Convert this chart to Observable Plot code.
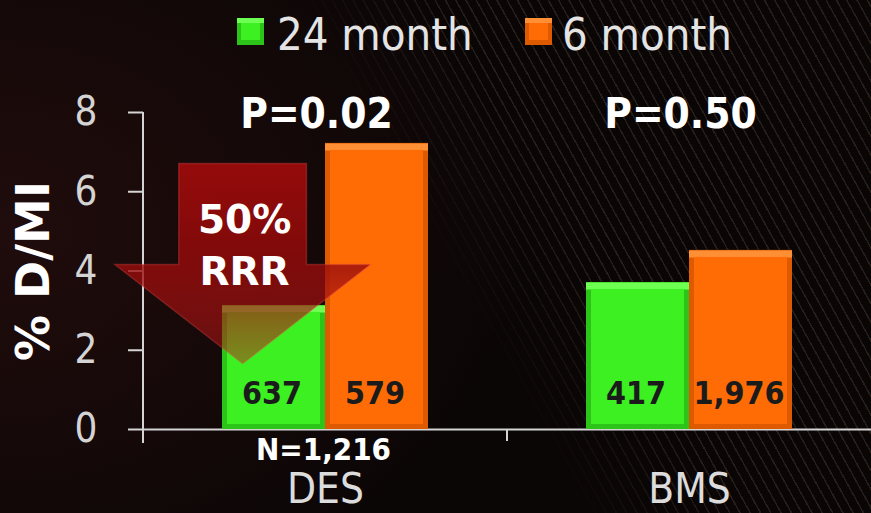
<!DOCTYPE html>
<html>
<head>
<meta charset="utf-8">
<script src="https://cdn.jsdelivr.net/npm/d3@7"></script>
<script src="https://cdn.jsdelivr.net/npm/@observablehq/plot@0.6"></script>
<style>
  html, body { margin: 0; padding: 0; background: #0b0606; }
  #wrap {
    position: relative; width: 871px; height: 513px; overflow: hidden;
    background: radial-gradient(ellipse 70% 90% at 0% 45%, #200c0c 0%, #160909 45%, #0b0606 85%);
  }
  #stripes {
    position: absolute; left: 0; top: 0; width: 871px; height: 513px;
    background: repeating-linear-gradient(61deg, rgba(0,0,0,0) 0px, rgba(0,0,0,0) 7.5px, rgba(125,108,90,0.24) 7.5px, rgba(125,108,90,0.24) 9px);
    -webkit-mask-image: linear-gradient(61deg, transparent 50%, black 64%);
    mask-image: linear-gradient(61deg, transparent 50%, black 64%);
  }
  #legend { position: absolute; left: 0; top: 0; width: 871px; height: 70px;
    font-family: "DejaVu Sans Condensed", "DejaVu Sans", sans-serif; font-stretch: condensed; color: #e4e4e4; }
  .sw { position: absolute; width: 27px; height: 27px; }
  .lt { position: absolute; font-size: 45px; line-height: 45px; white-space: nowrap; }
  #chart { position: absolute; left: 0; top: 0; }
</style>
</head>
<body>
<div id="wrap">
  <div id="stripes"></div>
  <div id="legend"></div>
  <div id="chart"></div>
</div>
<script>
// ---- data ----
const groups = ["DES", "BMS"];
const series = ["24 month", "6 month"];
const values24 = [3.13, 3.71];
const values6 = [7.22, 4.52];
const n24 = ["637", "417"];
const n6 = ["579", "1,976"];
const pValues = ["P=0.02", "P=0.50"];
const totals = ["N=1,216", ""];
const yTicks = [0, 2, 4, 6, 8];
const yLabel = "% D/MI";
const arrowText = ["50%", "RRR"];
const arrowLevels = [6.7, 4.15, 1.65]; // arrow top, head base, tip (in % D/MI)

// ---- styles ----
const faceColors = {"24 month": "#3cf022", "6 month": "#ff6c05"};
const darkColors = {"24 month": "#2cc418", "6 month": "#de5a00"};
const lightColors = {"24 month": "#6dff52", "6 month": "#ff8f35"};
const condensed = "'DejaVu Sans Condensed', 'DejaVu Sans', sans-serif";
const regular = "'DejaVu Sans', sans-serif";

const data = groups.flatMap((g, i) => [
  {group: g, series: series[0], value: values24[i], n: n24[i]},
  {group: g, series: series[1], value: values6[i], n: n6[i]}
]);
const groupRows = groups.map((g, i) => ({group: g, p: pValues[i], total: totals[i]}));

// ---- legend (HTML) ----
const legend = document.getElementById("legend");
const legendPos = [{sw: 237, tx: 277}, {sw: 525, tx: 562}];
series.forEach((s, i) => {
  const sw = document.createElement("div");
  sw.className = "sw";
  sw.style.left = legendPos[i].sw + "px";
  sw.style.top = "18px";
  sw.style.background = faceColors[s];
  sw.style.boxShadow = `inset 0 5px 0 ${lightColors[s]}, inset 0 -5px 0 ${darkColors[s]}, inset 4px 0 0 ${darkColors[s]}, inset -4px 0 0 ${darkColors[s]}`;
  legend.appendChild(sw);
  const t = document.createElement("div");
  t.className = "lt";
  t.style.left = legendPos[i].tx + "px";
  t.style.top = "12px";
  t.textContent = s;
  legend.appendChild(t);
});

const chart = Plot.plot({
  width: 871,
  height: 513,
  marginLeft: 143,
  marginRight: 0,
  marginTop: 112,
  marginBottom: 84,
  style: {background: "transparent", overflow: "visible"},
  fx: {domain: groups, padding: 0, axis: null},
  x: {domain: series, paddingInner: 0, paddingOuter: 0.755, axis: null},
  y: {domain: [0, 8]},
  marks: [
    Plot.axisY({ticks: yTicks, tickSize: 15, tickPadding: 31, fontSize: 40,
      fontFamily: condensed, color: "#d4d4d4", strokeWidth: 2, label: null}),
    Plot.ruleY([0], {stroke: "#d4d4d4", strokeWidth: 2}),
    // bar body (bevel edges)
    Plot.barY(data, {fx: "group", x: "series", y: "value", fill: d => darkColors[d.series]}),
    // top highlight bevel
    Plot.tickY(data, {fx: "group", x: "series", y: "value", stroke: d => lightColors[d.series], strokeWidth: 7, dy: 3.5}),
    // bar face
    Plot.barY(data, {fx: "group", x: "series", y: "value", fill: d => faceColors[d.series],
      insetLeft: 5, insetRight: 5, insetTop: 7, insetBottom: 5}),
    // counts inside bars
    Plot.text(data, {fx: "group", x: "series", text: "n", frameAnchor: "bottom", dy: -36, dx: -2,
      lineAnchor: "middle", fontSize: 32, fontWeight: "bold", fontFamily: condensed, fill: "#1b1b1b"}),
    // P values
    Plot.text(groupRows, {fx: "group", text: "p", frameAnchor: "top", dy: 2, dx: -9,
      lineAnchor: "middle", fontSize: 42, fontWeight: "bold", fontFamily: condensed, fill: "white"}),
    // total N
    Plot.text(groupRows.filter(d => d.total), {fx: "group", text: "total", frameAnchor: "bottom", dy: 21, dx: -2,
      lineAnchor: "middle", fontSize: 31, fontWeight: "bold", fontFamily: condensed, fill: "white"}),
    // category labels
    Plot.text(groups, {fx: d => d, text: d => d, frameAnchor: "bottom", dy: 60,
      lineAnchor: "middle", fontSize: 42, fontFamily: condensed, fill: "#dcdcdc"}),
    // y label
    Plot.text([yLabel], {fx: () => groups[0], frameAnchor: "left", rotate: -90, dx: -109,
      textAnchor: "middle", lineAnchor: "middle", fontSize: 46, fontWeight: "bold", fontFamily: regular, fill: "white"})
  ]
});
document.getElementById("chart").appendChild(chart);

// ---- decorations drawn with the chart's own scales ----
(function decorate() {
  const svgNode = chart.tagName.toLowerCase() === "svg" ? chart : chart.querySelector("svg");
  const svg = d3.select(svgNode);
  const ys = chart.scale("y"), xs = chart.scale("x"), fxs = chart.scale("fx");
  const Y = ys.apply ? v => ys.apply(v) : d3.scaleLinear(ys.domain, ys.range);
  const X = xs.apply ? v => xs.apply(v) : d3.scaleBand(xs.domain, xs.range).paddingInner(xs.paddingInner || 0).paddingOuter(xs.paddingOuter || 0);
  const FX = fxs.apply ? v => fxs.apply(v) : d3.scaleBand(fxs.domain, fxs.range);
  const b = xs.bandwidth != null ? xs.bandwidth : (X.bandwidth ? X.bandwidth() : 104);
  const axisColor = "#d4d4d4";
  const g = svg.append("g");
  const left = FX(groups[0]);
  // vertical y-axis line
  g.append("line")
    .attr("x1", left).attr("x2", left)
    .attr("y1", Y(yTicks[yTicks.length - 1])).attr("y2", Y(0) + 14)
    .attr("stroke", axisColor).attr("stroke-width", 2);
  // category boundary ticks
  groups.slice(1).forEach(gr => {
    const xx = FX(gr);
    g.append("line")
      .attr("x1", xx).attr("x2", xx)
      .attr("y1", Y(0)).attr("y2", Y(0) + 12)
      .attr("stroke", axisColor).attr("stroke-width", 2);
  });
  // arrow (in DES facet, whose offset is FX(DES) - marginLeft = 0)
  const offset = FX(groups[0]) - left;
  const cx = offset + X(series[0]) + 0.2 * b;
  const bh = 0.62 * b, hh = 1.24 * b;
  const [yt, yn, yp] = arrowLevels.map(v => Y(v));
  const defs = g.append("defs");
  const grad = defs.append("linearGradient").attr("id", "arrowGrad")
    .attr("x1", 0).attr("x2", 0).attr("y1", 0).attr("y2", 1);
  grad.append("stop").attr("offset", "0%").attr("stop-color", "#9c0b0b").attr("stop-opacity", 0.95);
  grad.append("stop").attr("offset", "45%").attr("stop-color", "#930a0a").attr("stop-opacity", 0.85);
  grad.append("stop").attr("offset", "100%").attr("stop-color", "#c01818").attr("stop-opacity", 0.45);
  g.append("path")
    .attr("d", `M${cx - bh},${yt}L${cx + bh},${yt}L${cx + bh},${yn}L${cx + hh},${yn}L${cx},${yp}L${cx - hh},${yn}L${cx - bh},${yn}Z`)
    .attr("fill", "url(#arrowGrad)")
    .attr("stroke", "rgba(230,70,70,0.35)").attr("stroke-width", 1.5);
  arrowText.forEach((t, i) => {
    g.append("text")
      .attr("x", cx + 2).attr("y", yt + 69 + i * 52)
      .attr("text-anchor", "middle")
      .attr("fill", "white")
      .attr("font-family", regular)
      .attr("font-weight", "bold")
      .attr("font-size", 39)
      .text(t);
  });
})();
</script>
</body>
</html>
